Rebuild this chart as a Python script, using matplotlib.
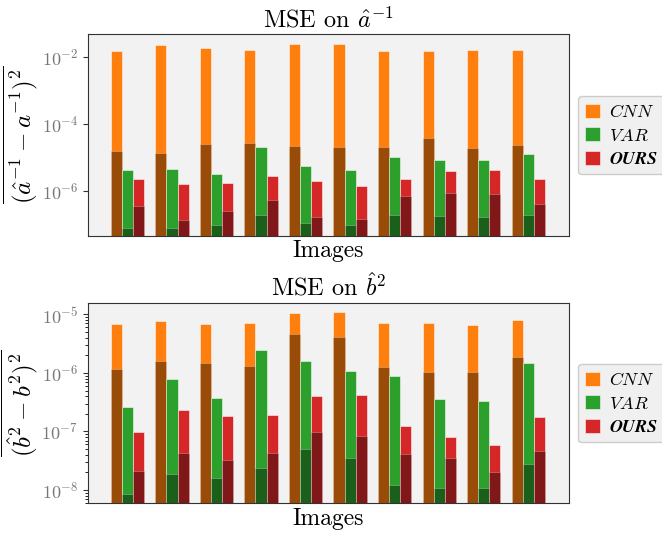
import numpy as np
import matplotlib
matplotlib.use("Agg")
import matplotlib.pyplot as plt
from matplotlib.colors import to_rgb

plt.rcParams.update({
    "font.family": "serif",
    "font.serif": ["cmr10"],
    "mathtext.fontset": "cm",
    "axes.unicode_minus": False,
    "axes.formatter.use_mathtext": True,
})

images = np.arange(10)
methods = ["CNN", "VAR", "OURS"]
legend_labels = [r"$CNN$", r"$VAR$", r"$\boldsymbol{OURS}$"]

# MSE on a^-1 : total and inner (darker) part
a_cnn = [1.51e-2, 2.19e-2, 1.86e-2, 1.58e-2, 2.45e-2, 2.45e-2, 1.51e-2, 1.48e-2, 1.62e-2, 1.66e-2]
a_cnn_in = [1.51e-5, 1.35e-5, 2.57e-5, 2.75e-5, 2.24e-5, 2.0e-5, 2.09e-5, 3.8e-5, 1.95e-5, 2.34e-5]
a_var = [4.17e-6, 4.47e-6, 3.16e-6, 2.09e-5, 5.5e-6, 4.07e-6, 1.02e-5, 8.3e-6, 8.1e-6, 1.26e-5]
a_var_in = [7.8e-8, 7.8e-8, 9.8e-8, 1.95e-7, 1.1e-7, 9.3e-8, 1.9e-7, 1.78e-7, 1.62e-7, 1.86e-7]
a_ours = [2.24e-6, 1.62e-6, 1.70e-6, 2.69e-6, 2.0e-6, 1.38e-6, 2.34e-6, 3.98e-6, 4.27e-6, 2.19e-6]
a_ours_in = [3.55e-7, 1.32e-7, 2.45e-7, 5.4e-7, 1.7e-7, 1.45e-7, 7.1e-7, 8.5e-7, 8.3e-7, 4.1e-7]

# MSE on b^2
b_cnn = [6.84e-6, 7.6e-6, 6.76e-6, 7.0e-6, 1.04e-5, 1.11e-5, 7.1e-6, 7.0e-6, 6.5e-6, 8.1e-6]
b_cnn_in = [1.17e-6, 1.6e-6, 1.48e-6, 1.31e-6, 4.56e-6, 4.1e-6, 1.28e-6, 1.02e-6, 1.05e-6, 1.87e-6]
b_var = [2.62e-7, 8.0e-7, 3.73e-7, 2.49e-6, 1.6e-6, 1.09e-6, 8.7e-7, 3.58e-7, 3.3e-7, 1.46e-6]
b_var_in = [8.4e-9, 1.88e-8, 1.61e-8, 2.39e-8, 5.0e-8, 3.5e-8, 1.23e-8, 1.1e-8, 1.07e-8, 2.78e-8]
b_ours = [9.7e-8, 2.33e-7, 1.83e-7, 1.9e-7, 3.98e-7, 4.15e-7, 1.24e-7, 7.9e-8, 5.9e-8, 1.74e-7]
b_ours_in = [2.11e-8, 4.35e-8, 3.3e-8, 4.35e-8, 9.9e-8, 8.3e-8, 4.12e-8, 3.5e-8, 2.04e-8, 4.65e-8]

colors = ["#ff7f0e", "#2ca02c", "#d62728"]
dark = [tuple(c * 0.6 for c in to_rgb(col)) for col in colors]

fig = plt.figure(figsize=(6.62, 5.33), dpi=100)
ax1 = fig.add_axes([0.1329, 0.557, 0.7266, 0.379])
ax2 = fig.add_axes([0.1329, 0.0557, 0.7266, 0.3764])

width = 0.25
offsets = [-width, 0, width]


def draw(ax, totals, inners, title, ylabel, ylim):
    ax.set_facecolor("#f2f2f2")
    handles = []
    for k in range(3):
        h = ax.bar(images + offsets[k], totals[k], width, color=colors[k],
                   edgecolor=(1, 1, 1, 0.6), linewidth=0.6, label=legend_labels[k])
        ax.bar(images + offsets[k], inners[k], width, color=dark[k],
               edgecolor=(1, 1, 1, 0.3), linewidth=0.6)
        handles.append(h)
    ax.set_yscale("log")
    ax.set_ylim(*ylim)
    ax.set_xlim(-0.886, 9.914)
    ax.set_xticks([])
    ax.set_title(title, fontsize=17.5, pad=5)
    ax.set_xlabel("Images", fontsize=17, labelpad=3)
    ax.set_ylabel(ylabel, fontsize=18, labelpad=1)
    ax.tick_params(axis="y", labelsize=13, labelcolor="#777777", color="#333333")
    for s in ax.spines.values():
        s.set_color("#333333")
    ax.legend(handles=handles, loc="center left", bbox_to_anchor=(1.0, 0.5),
              fontsize=13, frameon=True, facecolor="#f0f0f0", edgecolor="#cccccc",
              handlelength=0.8, handleheight=0.8, borderpad=0.4, labelspacing=0.4,
              handletextpad=0.5, framealpha=1.0)
    return ax


draw(ax1, [a_cnn, a_var, a_ours], [a_cnn_in, a_var_in, a_ours_in],
     r"MSE on $\hat{a}^{-1}$", r"$\overline{(\hat{a}^{-1}-a^{-1})^2}$",
     (10 ** -7.35, 10 ** -1.32))
ax1.set_yticks([1e-6, 1e-4, 1e-2])
ax1.minorticks_off()

draw(ax2, [b_cnn, b_var, b_ours], [b_cnn_in, b_var_in, b_ours_in],
     r"MSE on $\hat{b}^{2}$", r"$\overline{(\hat{b}^{2}-b^{2})^2}$",
     (10 ** -8.227, 10 ** -4.80))

fig.savefig("out.png", dpi=100)
